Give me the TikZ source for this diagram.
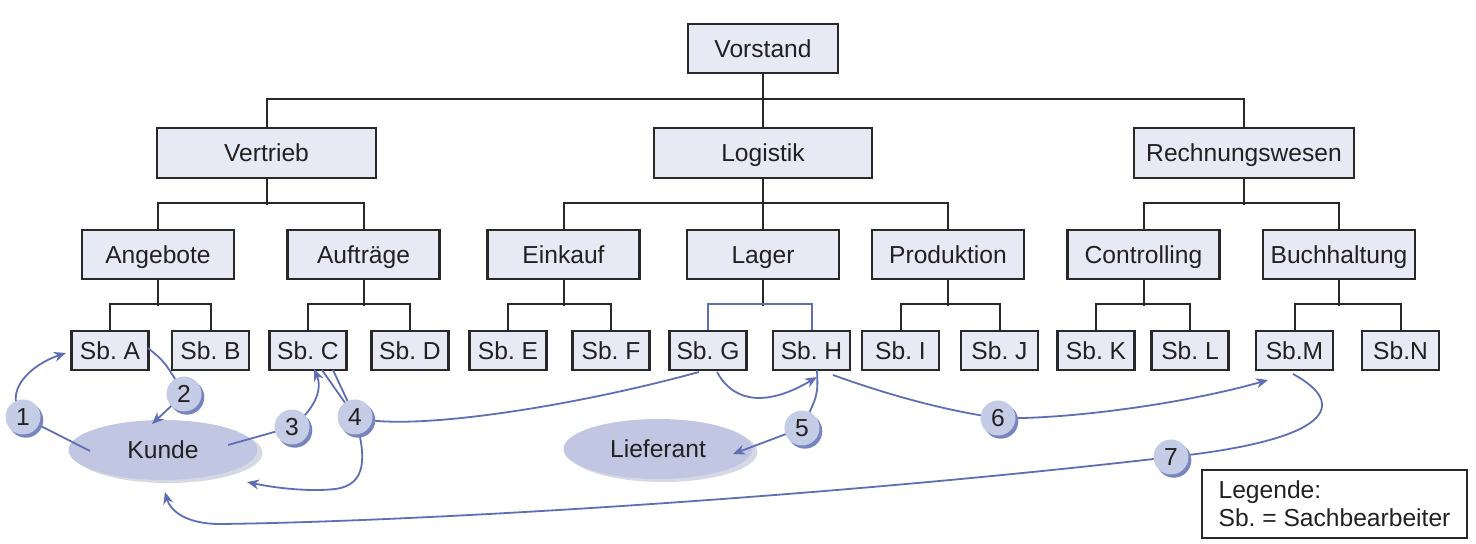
\documentclass[tikz,border=0pt]{standalone}
\usepackage{fontspec}
\setmainfont{Liberation Sans}
\usetikzlibrary{shapes.geometric,arrows.meta,shadows}
\definecolor{boxfill}{RGB}{231,233,245}
\definecolor{boxline}{RGB}{40,40,40}
\definecolor{arrblue}{RGB}{96,110,180}
\definecolor{numfill}{RGB}{197,204,229}
\definecolor{numshadow}{RGB}{120,132,190}
\definecolor{ellfill}{RGB}{193,199,227}
\definecolor{ellshadow}{RGB}{214,217,228}
\definecolor{txt}{RGB}{35,32,32}
\frenchspacing
\begin{document}
\begin{tikzpicture}[x=0.5pt,y=-0.5pt,
  font=\fontsize{12.3}{14}\selectfont,
  box/.style={draw=boxline,fill=boxfill,line width=1.2pt,inner sep=0pt,
    minimum height=24.5pt,minimum width=76pt,text=txt,text height=9pt,text depth=0.2pt},
  sbbox/.style={box,minimum width=38.5pt,minimum height=19.5pt},
  tree/.style={draw=boxline,line width=1pt},
  treeblue/.style={draw=arrblue,line width=1pt},
  arr/.style={draw=arrblue,line width=0.9pt},
  arrtip/.style={arr,-{Stealth[length=6pt,width=5pt]}},
  num/.style={circle,fill=numfill,minimum size=17.5pt,inner sep=0pt,text=txt,
    text height=9pt,text depth=0pt,
    drop shadow={shadow xshift=1.4pt,shadow yshift=-1.6pt,fill=numshadow,opacity=1}},
  ell/.style={ellipse,fill=ellfill,inner sep=0pt,text=txt,text height=9pt,text depth=0.2pt,
    drop shadow={shadow xshift=2.5pt,shadow yshift=-1.5pt,fill=ellshadow,opacity=1}},
  legend/.style={draw=boxline,line width=1pt,fill=white,align=left,
    minimum width=132.5pt,minimum height=34pt,inner sep=0pt,text=txt}
]
\useasboundingbox (0,0) rectangle (1476,544);

% --- level 0/1
\node[box,minimum width=75pt] (vor) at (763,48.5) {Vorstand};
\node[box,minimum width=109.5pt,minimum height=25pt] (vert) at (266.5,153) {Vertrieb};
\node[box,minimum width=109pt,minimum height=25pt] (log) at (763,153) {Logistik};
\node[box,minimum width=110pt,minimum height=25pt] (rw) at (1244,153) {Rechnungswesen};
% --- level 2
\node[box] (ang) at (158,254.5) {Angebote};
\node[box] (auf) at (363.5,254.5) {Aufträge};
\node[box] (ein) at (563.5,254.5) {Einkauf};
\node[box] (lag) at (763,254.5) {Lager};
\node[box] (prod) at (948,254.5) {Produktion};
\node[box] (con) at (1143.5,254.5) {Controlling};
\node[box] (buch) at (1339,254.5) {Buchhaltung};
% --- level 3
\node[sbbox] (sbA) at (110,350.5) {Sb. A};
\node[sbbox] (sbB) at (210.5,350.5) {Sb. B};
\node[sbbox] (sbC) at (308,350.5) {Sb. C};
\node[sbbox] (sbD) at (410,350.5) {Sb. D};
\node[sbbox] (sbE) at (508,350.5) {Sb. E};
\node[sbbox] (sbF) at (611,350.5) {Sb. F};
\node[sbbox] (sbG) at (708,350.5) {Sb. G};
\node[sbbox] (sbH) at (811.5,350.5) {Sb. H};
\node[sbbox] (sbI) at (900.5,350.5) {Sb. I};
\node[sbbox] (sbJ) at (999.5,350.5) {Sb. J};
\node[sbbox] (sbK) at (1096,350.5) {Sb. K};
\node[sbbox] (sbL) at (1190,350.5) {Sb. L};
\node[sbbox] (sbM) at (1294.5,350.5) {Sb.M};
\node[sbbox] (sbN) at (1400.5,350.5) {Sb.N};

% --- tree lines
\draw[tree] (vor.south) -- (log.north);
\draw[tree] (vert.north) -- ++(0,-28) -| (rw.north);
\draw[tree] (vert.south) -- ++(0,26);
\draw[tree] (ang.north) -- ++(0,-26) -| (auf.north);
\draw[tree] (log.south) -- (lag.north);
\draw[tree] (ein.north) -- ++(0,-26) -| (prod.north);
\draw[tree] (rw.south) -- ++(0,26);
\draw[tree] (con.north) -- ++(0,-26) -| (buch.north);
\draw[tree] (ang.south) -- ++(0,26);
\draw[tree] (sbA.north) -- ++(0,-26) -| (sbB.north);
\draw[tree] (auf.south) -- ++(0,26);
\draw[tree] (sbC.north) -- ++(0,-26) -| (sbD.north);
\draw[tree] (ein.south) -- ++(0,26);
\draw[tree] (sbE.north) -- ++(0,-26) -| (sbF.north);
\draw[tree] (lag.south) -- ++(0,26);
\draw[treeblue] (sbG.north) -- ++(0,-26) -| (sbH.north);
\draw[tree] (prod.south) -- ++(0,26);
\draw[tree] (sbI.north) -- ++(0,-26) -| (sbJ.north);
\draw[tree] (con.south) -- ++(0,26);
\draw[tree] (sbK.north) -- ++(0,-26) -| (sbL.north);
\draw[tree] (buch.south) -- ++(0,26);
\draw[tree] (sbM.north) -- ++(0,-26) -| (sbN.north);

% --- ellipses
\node[ell,minimum width=94.5pt,minimum height=30pt] (kunde) at (163,450) {Kunde};
\node[ell,minimum width=94.5pt,minimum height=30pt] (lief) at (658,449) {Lieferant};

% --- circle centres
\coordinate (c1) at (23,417);
\coordinate (c2) at (184,394);
\coordinate (c3) at (292,427);
\coordinate (c4) at (355,417);
\coordinate (c5) at (802,428);
\coordinate (c6) at (998,418);
\coordinate (c7) at (1171,457);

% --- free ends
\coordinate (k1) at (90,451);
\coordinate (a1) at (66,353);
\coordinate (a2) at (148,348);
\coordinate (k2) at (152,424);
\coordinate (k3) at (228,445);
\coordinate (s3) at (314,369);
\coordinate (s4a) at (322,370);
\coordinate (s4b) at (333,370);
\coordinate (g4) at (699,372);
\coordinate (k4) at (247,482);
\coordinate (g5) at (717,372);
\coordinate (h5) at (817,377);
\coordinate (h5b) at (817,370);
\coordinate (l5) at (733,454);
\coordinate (h6) at (833,375);
\coordinate (m6) at (1268,380);
\coordinate (m7) at (1293,374);
\coordinate (k7) at (165,492);

% --- process arrows
\draw[arr] (k1) -- (c1);
\draw[arrtip] (c1) .. controls (2,392) and (30,365) .. (a1);
\draw[arr] (a2) .. controls (165,362) .. (c2);
\draw[arrtip] (c2) -- (k2);
\draw[arr] (k3) -- (c3);
\draw[arrtip] (c3) .. controls (314,410) and (323,390) .. (s3);
\draw[arr] (s4a) -- (c4);
\draw[arr] (s4b) -- (c4);
\draw[arr] (c4) .. controls (400,432) and (560,410) .. (g4);
\draw[arrtip] (c4) .. controls (366,455) and (368,485) .. (335,489)
  .. controls (310,492) and (275,488) .. (k4);
\draw[arrtip] (g5) .. controls (735,405) and (770,405) .. (h5);
\draw[arr] (h5b) .. controls (818,395) .. (c5);
\draw[arrtip] (c5) -- (l5);
\draw[arr] (h6) .. controls (880,392) and (940,410) .. (c6);
\draw[arrtip] (c6) .. controls (1060,420) and (1180,405) .. (m6);
\draw[arr] (m7) .. controls (1350,405) and (1330,440) .. (c7);
\draw[arrtip] (c7) .. controls (800,500) and (400,522) .. (220,524)
  .. controls (185,524) and (170,510) .. (k7);

% --- numbered circles
\node[num] (n1) at (c1) {1};
\node[num] (n2) at (c2) {2};
\node[num] (n3) at (c3) {3};
\node[num] (n4) at (c4) {4};
\node[num] (n5) at (c5) {5};
\node[num] (n6) at (c6) {6};
\node[num] (n7) at (c7) {7};

% --- legend
\node[legend,anchor=north west] (leg) at (1201,469) {Legende:\\Sb. = Sachbearbeiter};
\end{tikzpicture}
\end{document}
